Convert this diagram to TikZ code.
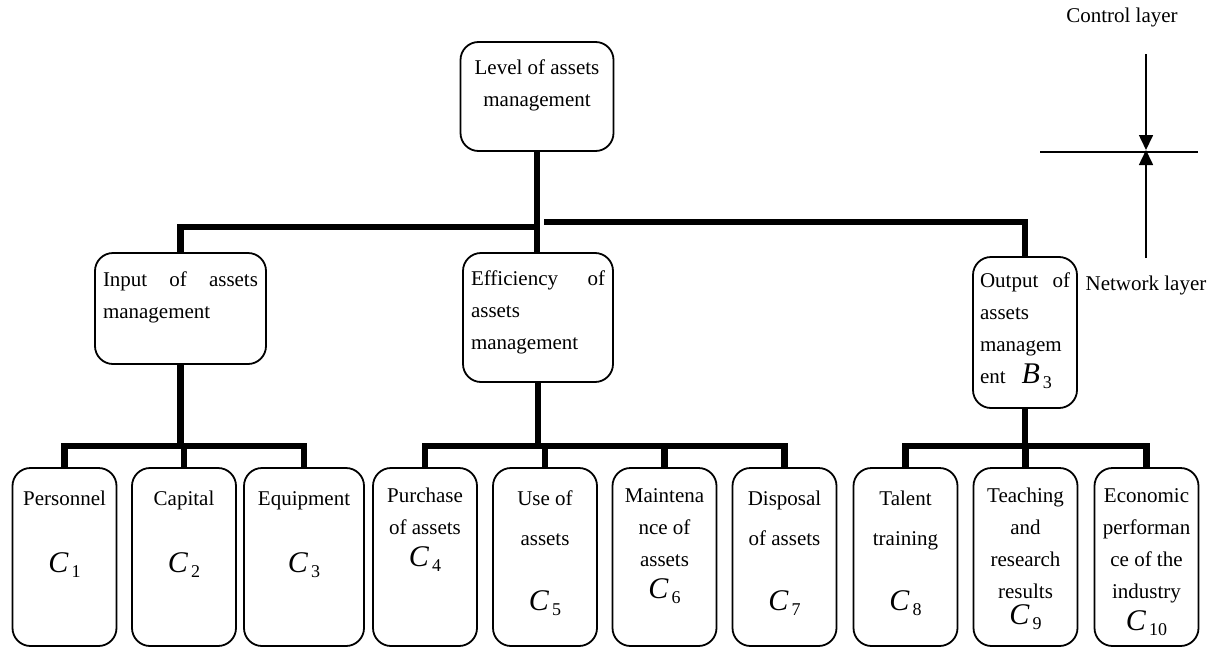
\documentclass[tikz,border=0pt]{standalone}
\usepackage{fontspec}
\setmainfont{Liberation Serif}
\usetikzlibrary{arrows.meta}
\newcommand\cellbox[4][16pt]{\parbox[c][#3][t]{#2}{\fontsize{10.5}{16}\selectfont\centering\rule{0pt}{#1}#4}}
\newcommand\ivar[2]{{\fontsize{15}{15}\selectfont\itshape #1\/}\kern1.5pt\raisebox{-2.5pt}{\fontsize{9}{9}\selectfont #2}}

\begin{document}
\begin{tikzpicture}[x=0.5pt,y=-0.5pt,
	every node/.style={font=\fontsize{10.5}{16}\selectfont},
	cell/.style={draw, line width=0.9pt, rounded corners=9pt, inner sep=0pt},
	bar/.style={line width=3.25pt},
	thinline/.style={line width=0.8pt},
	arrowline/.style={thinline, -{Triangle[length=7.5pt,width=7pt]}}]
			\useasboundingbox (0,0) rectangle (1225,648);

			\coordinate (lj) at (537,227);
			\coordinate (rj) at (544,222);
			\coordinate (ca) at (1146,54);
			\coordinate (cm) at (1146,150);
			\coordinate (cb) at (1146,258);
			\coordinate (hl) at (1040,152);
			\coordinate (hr) at (1198,152);

			\node [cell, minimum width=76.5pt] (top) at (537,96.5) {\cellbox{68pt}{54.5pt}{Level of assets\\management}};
			\node [cell, minimum width=85.5pt] (in) at (180.5,308.5) {\cellbox[16.5pt]{77.5pt}{55.5pt}{\raggedright Input\hfill of\hfill assets\\management}};
			\node [cell, minimum width=75pt] (eff) at (538,317.5) {\cellbox{67pt}{64.5pt}{\raggedright Efficiency\hfill of\\assets\\management}};
			\node [cell, minimum width=52pt] (out) at (1025,332.5) {\cellbox[15pt]{45pt}{75.5pt}{\raggedright Output\hfill of\\assets\\managem\\ent\hspace{8pt}\ivar{B}{3}}};

			\node [cell, minimum width=52pt] (c1) at (64.5,557) {\cellbox[18.5pt]{50pt}{89pt}{Personnel\\[17.5pt]\ivar{C}{1}}};
			\node [cell, minimum width=52pt] (c2) at (184,557) {\cellbox[18.5pt]{50pt}{89pt}{Capital\\[17.5pt]\ivar{C}{2}}};
			\node [cell, minimum width=60pt] (c3) at (304,557) {\cellbox[18.5pt]{58pt}{89pt}{Equipment\\[17.5pt]\ivar{C}{3}}};
			\node [cell, minimum width=52pt] (c4) at (425,557) {\cellbox[17pt]{50pt}{89pt}{Purchase\\of assets\\\ivar{C}{4}}};
			\node [cell, minimum width=52pt] (c5) at (545,557) {\cellbox[18.5pt]{50pt}{89pt}{Use of\\[4pt]assets\\[16.5pt]\ivar{C}{5}}};
			\node [cell, minimum width=52pt] (c6) at (664.5,557) {\cellbox[17pt]{50pt}{89pt}{Maintena\\nce of\\assets\\\ivar{C}{6}}};
			\node [cell, minimum width=52pt] (c7) at (784.5,557) {\cellbox[18.5pt]{50pt}{89pt}{Disposal\\[4pt]of assets\\[16.5pt]\ivar{C}{7}}};
			\node [cell, minimum width=52pt] (c8) at (905.5,557) {\cellbox[18.5pt]{50pt}{89pt}{Talent\\[4pt]training\\[16.5pt]\ivar{C}{8}}};
			\node [cell, minimum width=52pt] (c9) at (1025.5,557) {\cellbox[17pt]{50pt}{89pt}{Teaching\\and\\research\\results\\[-3pt]\ivar{C}{9}}};
			\node [cell, minimum width=52pt] (c10) at (1146.5,557) {\cellbox[17pt]{50pt}{89pt}{Economic\\performan\\ce of the\\industry\\\ivar{C}{10}}};

			\node [anchor=base] (ctl) at (1122,23) {Control layer};
			\node [anchor=base] (net) at (1146,290) {Network layer};

			\draw [bar] (top.south) -- (top.south |- eff.north);
			\draw [bar] (lj) -| (in.north);
			\draw [bar] (rj) -| (out.north);

			\draw [bar] (in.south) -- (in.south |- 0,446);
			\draw [bar] (c1.north) |- (c3.north |- 0,446) -- (c3.north);
			\draw [bar] (c2.north) -- (c2.north |- 0,446);

			\draw [bar] (eff.south) -- (eff.south |- 0,446);
			\draw [bar] (c4.north) |- (c7.north |- 0,446) -- (c7.north);
			\draw [bar] (c5.north) -- (c5.north |- 0,446);
			\draw [bar] (c6.north) -- (c6.north |- 0,446);

			\draw [bar] (out.south) -- (out.south |- 0,446);
			\draw [bar] (c8.north) |- (c10.north |- 0,446) -- (c10.north);
			\draw [bar] (c9.north) -- (c9.north |- 0,446);

			\draw [thinline] (hl) -- (hr);
			\draw [arrowline] (ca) -- (cm);
			\draw [arrowline] (cb) -- (cm);

		\end{tikzpicture}
\end{document}
